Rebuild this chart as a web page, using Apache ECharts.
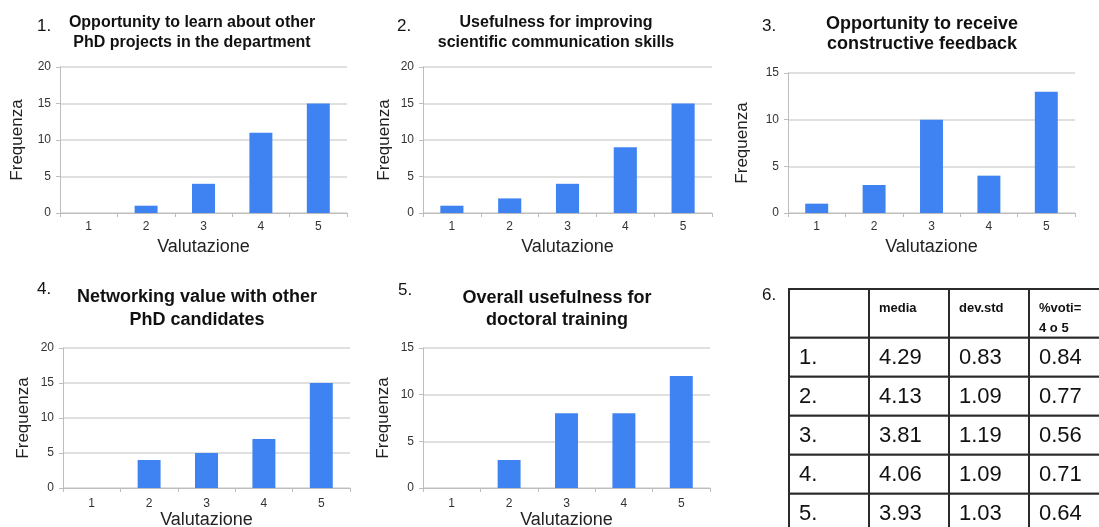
<!DOCTYPE html>
<html>
<head>
<meta charset="utf-8">
<title>Valutazione seminari</title>
<script src="https://cdn.jsdelivr.net/npm/echarts@6/dist/echarts.min.js"></script>
<style>
  html, body { margin: 0; padding: 0; background: #fff; }
  #main { width: 1099px; height: 527px; }
</style>
</head>
<body>
<div id="main"></div>
<script>
// categorie (voti 1..5)
const categories = ['1', '2', '3', '4', '5'];

// frequenze per ogni domanda
const q1Values = [0, 1, 4, 11, 15];
const q2Values = [1, 2, 4, 9, 15];
const q3Values = [1, 3, 10, 4, 13];
const q4Values = [0, 4, 5, 7, 15];
const q5Values = [0, 3, 8, 8, 12];

const titles = [
  'Opportunity to learn about other\nPhD projects in the department',
  'Usefulness for improving\nscientific communication skills',
  'Opportunity to receive\nconstructive feedback',
  'Networking value with other\nPhD candidates',
  'Overall usefulness for\ndoctoral training'
];
const numbers = ['1.', '2.', '3.', '4.', '5.', '6.'];
const yMaxes = [20, 20, 15, 20, 15];

// tabella 6.
const tableHeaders = ['', 'media', 'dev.std', '%voti=\n4 o 5'];
const rowLabels = ['1.', '2.', '3.', '4.', '5.'];
const media = [4.29, 4.13, 3.81, 4.06, 3.93];
const devStd = [0.83, 1.09, 1.19, 1.09, 1.03];
const pctVoti = [0.84, 0.77, 0.56, 0.71, 0.64];

const FONT = '"Liberation Sans", Arial, Helvetica, sans-serif';
const BAR_COLOR = '#3f83f2';

// layout dei 5 grafici
const layouts = [
  { grid: { left: 60, top: 67, width: 287, height: 146 }, title: { x: 192, y: 13, size: 16, lh: 20 }, num: { x: 37, y: 18 }, yGap: 34, xGap: 25, lm: 8 },
  { grid: { left: 423, top: 67, width: 289, height: 146 }, title: { x: 556, y: 13, size: 16, lh: 20 }, num: { x: 397, y: 18 }, yGap: 30, xGap: 25, lm: 8 },
  { grid: { left: 788, top: 73, width: 287, height: 140 }, title: { x: 922, y: 14, size: 18, lh: 20 }, num: { x: 762, y: 18 }, yGap: 37, xGap: 25, lm: 8 },
  { grid: { left: 63, top: 348, width: 287, height: 140 }, title: { x: 197, y: 286, size: 18, lh: 23 }, num: { x: 37, y: 281 }, yGap: 31, xGap: 23, lm: 10 },
  { grid: { left: 423, top: 348, width: 287, height: 140 }, title: { x: 557, y: 287, size: 18, lh: 22 }, num: { x: 398, y: 282 }, yGap: 31, xGap: 23, lm: 10 }
];
const allValues = [q1Values, q2Values, q3Values, q4Values, q5Values];

const grids = [];
const xAxes = [];
const yAxes = [];
const series = [];
const titleList = [];

layouts.forEach(function (l, i) {
  grids.push(Object.assign({ outerBoundsMode: 'none', containLabel: false }, l.grid));
  xAxes.push({
    gridIndex: i,
    type: 'category',
    data: categories,
    name: 'Valutazione',
    nameLocation: 'middle',
    nameGap: l.xGap,
    nameTextStyle: { fontFamily: FONT, fontSize: 18, color: '#222' },
    axisLine: { show: true, lineStyle: { color: '#bdbdbd', width: 1 } },
    axisTick: { show: true, alignWithLabel: false, length: 4, lineStyle: { color: '#bdbdbd' } },
    axisLabel: { fontFamily: FONT, fontSize: 12, color: '#333', margin: l.lm },
    splitLine: { show: false }
  });
  yAxes.push({
    gridIndex: i,
    type: 'value',
    min: 0,
    max: yMaxes[i],
    interval: 5,
    name: 'Frequenza',
    nameLocation: 'middle',
    nameGap: l.yGap,
    nameRotate: 90,
    nameTextStyle: { fontFamily: FONT, fontSize: 17, color: '#222' },
    axisLine: { show: true, lineStyle: { color: '#bdbdbd', width: 1 } },
    axisTick: { show: true, length: 4, lineStyle: { color: '#bdbdbd' } },
    axisLabel: { fontFamily: FONT, fontSize: 12, color: '#333', margin: 9 },
    splitLine: { show: true, lineStyle: { color: '#d6d6d6', width: 1.5 } }
  });
  series.push({
    type: 'bar',
    xAxisIndex: i,
    yAxisIndex: i,
    data: allValues[i],
    barWidth: '40%',
    itemStyle: { color: BAR_COLOR },
    animation: false
  });
  titleList.push({
    text: titles[i],
    left: l.title.x,
    top: l.title.y,
    textAlign: 'center',
    padding: 0,
    textStyle: { fontFamily: FONT, fontSize: l.title.size, fontWeight: 'bold', color: '#111', lineHeight: l.title.lh }
  });
  titleList.push({
    text: numbers[i],
    left: l.num.x,
    top: l.num.y,
    padding: 0,
    textStyle: { fontFamily: FONT, fontSize: 17, fontWeight: 'normal', color: '#111' }
  });
});

// numero "6." della tabella
titleList.push({
  text: numbers[5],
  left: 762,
  top: 287,
  padding: 0,
  textStyle: { fontFamily: FONT, fontSize: 17, fontWeight: 'normal', color: '#111' }
});

// celle della tabella: [colonna, riga] + testo
const cells = [];
tableHeaders.forEach(function (h, c) {
  cells.push({ value: [c, 0], text: h });
});
rowLabels.forEach(function (lab, r) {
  cells.push({ value: [0, r + 1], text: lab });
  cells.push({ value: [1, r + 1], text: media[r].toFixed(2) });
  cells.push({ value: [2, r + 1], text: devStd[r].toFixed(2) });
  cells.push({ value: [3, r + 1], text: pctVoti[r].toFixed(2) });
});

// la riga di intestazione e' alta 1.25 unita', le altre 1
function renderCell(params, api) {
  const col = api.value(0);
  const row = api.value(1);
  const y0 = row === 0 ? 0 : row + 0.25;
  const y1 = row + 1.25;
  const p0 = api.coord([col, y0]);
  const p1 = api.coord([col + 1, y1]);
  const head = row === 0;
  const text = cells[params.dataIndex].text;
  return {
    type: 'group',
    children: [
      {
        type: 'rect',
        shape: { x: p0[0], y: p0[1], width: p1[0] - p0[0], height: p1[1] - p0[1] },
        style: { fill: '#fff', stroke: '#2b2b2b', lineWidth: 2 }
      },
      {
        type: 'text',
        style: {
          text: text,
          x: p0[0] + 10,
          y: head ? p0[1] + 9 : (p0[1] + p1[1]) / 2 + 1,
          verticalAlign: head ? 'top' : 'middle',
          align: 'left',
          fontFamily: FONT,
          fontSize: head ? 13 : 22,
          fontWeight: head ? 'bold' : 'normal',
          lineHeight: head ? 20 : 24,
          fill: '#111'
        }
      }
    ]
  };
}

grids.push({ left: 789, top: 289, width: 320, height: 243.75, outerBoundsMode: 'none', containLabel: false });
xAxes.push({ gridIndex: 5, type: 'value', min: 0, max: 4, show: false });
yAxes.push({ gridIndex: 5, type: 'value', min: 0, max: 6.25, inverse: true, show: false });
series.push({
  type: 'custom',
  xAxisIndex: 5,
  yAxisIndex: 5,
  data: cells,
  renderItem: renderCell,
  clip: false,
  animation: false
});

const chart = echarts.init(document.getElementById('main'), null, { renderer: 'canvas' });
chart.setOption({
  backgroundColor: '#ffffff',
  animation: false,
  title: titleList,
  grid: grids,
  xAxis: xAxes,
  yAxis: yAxes,
  series: series
});
</script>
</body>
</html>
